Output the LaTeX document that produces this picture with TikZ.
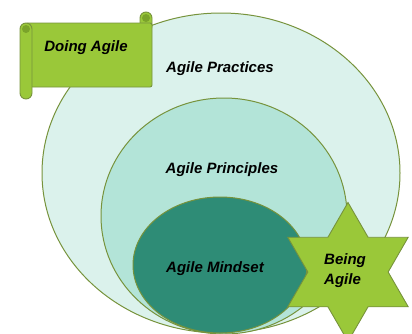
\documentclass[tikz,border=0pt]{standalone}
\usepackage{fontspec}
\setmainfont{Liberation Sans}
\usetikzlibrary{shapes.geometric}

\begin{document}
\begin{tikzpicture}[x=1pt,y=-1pt]

% Define the colors
\definecolor{olive}{RGB}{119,147,60}
\definecolor{lime}{RGB}{154,200,57}
\definecolor{curl}{RGB}{122,163,42}
\definecolor{mintlight}{RGB}{219,242,236}
\definecolor{mintmid}{RGB}{179,228,216}
\definecolor{teal}{RGB}{46,140,118}

\tikzset{
    ring/.style={ellipse, draw=olive, line width=1pt, inner sep=0pt},
    scroll/.style={draw=olive, fill=lime, line width=0.9pt},
    caption/.style={font=\fontsize{15}{20}\selectfont\bfseries\itshape}
}

\useasboundingbox (0,0) rectangle (412,333);

% The nested ellipses
\node[ring, fill=mintlight, minimum width=358, minimum height=320] (practices) at (221,173) {};
\node[ring, fill=mintmid, minimum width=246, minimum height=236] (principles) at (224,216) {};
\node[ring, fill=teal, minimum width=174, minimum height=136] (mindset) at (220,265) {};

% Labels inside each ellipse
\node[caption] (practiceslabel) at (220,69) {Agile Practices};
\node[caption] (principleslabel) at (222,170) {Agile Principles};
\node[caption] (mindsetlabel) at (215,269) {Agile Mindset};

% Six pointed star
\node[star, star points=6, star point ratio=1.732, draw=olive, fill=lime,
    line width=0.9pt, minimum size=139, inner sep=0pt] (being) at (348,272) {};
\node[caption, align=left] (beinglabel) at (345,271) {Being\\Agile};

% The scroll
\draw[scroll, rounded corners=6] (140,12) rectangle (152,32);
\draw[scroll, rounded corners=2] (26,23) rectangle (152,87);
\draw[scroll, rounded corners=6] (20,23) rectangle (32,99);
\fill[curl] (146,18) circle (4);
\fill[curl] (26,29) circle (4);
\node[caption] (doinglabel) at (86,48) {Doing Agile};

\end{tikzpicture}
\end{document}
